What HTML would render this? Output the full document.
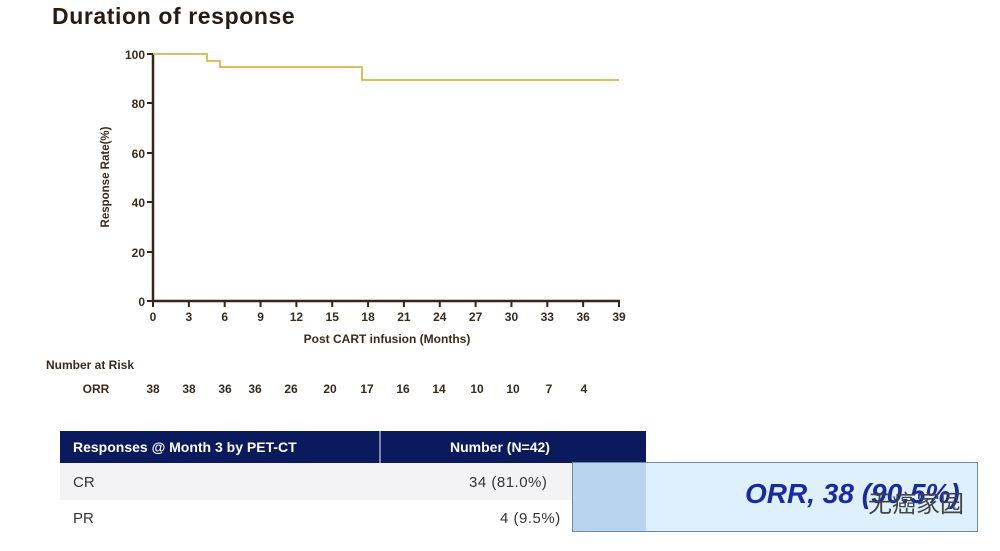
<!DOCTYPE html>
<html><head><style>
body{margin:0;width:1000px;height:551px;background:#fff;overflow:hidden;position:relative;font-family:"Liberation Sans","Noto Sans CJK SC",sans-serif}
.a{position:absolute}
</style></head><body>
<div class="a" style="left:52px;top:3px;font-size:23px;letter-spacing:0.6px;font-weight:bold;color:#2a1a10">Duration of response</div>
<svg class="a" style="left:0;top:0" width="1000" height="420" font-family="Liberation Sans,sans-serif" font-weight="bold" fill="#3a2a1a">
<g stroke="#3a2418" stroke-width="2.5" fill="none">
<line x1="153" y1="53" x2="153" y2="302"/><line x1="152" y1="301" x2="620" y2="301"/>
</g>
<g stroke="#3a2418" stroke-width="2">
<line x1="147" y1="54" x2="153" y2="54"/><line x1="147" y1="103" x2="153" y2="103"/><line x1="147" y1="153" x2="153" y2="153"/><line x1="147" y1="202" x2="153" y2="202"/><line x1="147" y1="252" x2="153" y2="252"/><line x1="147" y1="301" x2="153" y2="301"/>
</g>
<g font-size="12" text-anchor="end">
<text x="145" y="59">100</text><text x="145" y="108">80</text><text x="145" y="158">60</text><text x="145" y="207">40</text><text x="145" y="257">20</text><text x="145" y="306">0</text>
</g>
<g font-size="12" text-anchor="middle" id="xt"></g>
<text font-size="11.5" text-anchor="middle" transform="translate(109,177) rotate(-90)">Response Rate(%)</text>
<text x="387" y="343" font-size="12" text-anchor="middle">Post CART infusion (Months)</text>
<polyline fill="none" stroke="#d8b84a" stroke-width="1.8" points="153,54 207,54 207,61 220,61 220,67 362,67 362,80 619,80"/>
<text x="46" y="369" font-size="12">Number at Risk</text>
<g font-size="12" text-anchor="middle">
<text x="96" y="393">ORR</text>
<text x="153" y="393">38</text><text x="189" y="393">38</text><text x="225" y="393">36</text><text x="255" y="393">36</text><text x="291" y="393">26</text><text x="330" y="393">20</text><text x="367" y="393">17</text><text x="403" y="393">16</text><text x="439" y="393">14</text><text x="477" y="393">10</text><text x="513" y="393">10</text><text x="549" y="393">7</text><text x="584" y="393">4</text>
</g>
<g stroke="#3a2418" stroke-width="2" id="xtl"></g>
</svg>
<div class="a" style="left:60px;top:431px;width:586px;height:32px;background:#0a1a5c"></div>
<div class="a" style="left:379px;top:431px;width:2px;height:32px;background:#7a86b0"></div>
<div class="a" style="left:73px;top:439px;color:#fff;font-size:14px;font-weight:bold">Responses @ Month 3 by PET-CT</div>
<div class="a" style="left:450px;top:439px;color:#fff;font-size:14px;font-weight:bold">Number (N=42)</div>
<div class="a" style="left:60px;top:463px;width:586px;height:37px;background:#f3f3f6"></div>
<div class="a" style="left:73px;top:474px;font-size:15px;color:#333">CR</div>
<div class="a" style="left:469px;top:474px;font-size:15px;color:#333;letter-spacing:0.5px">34 (81.0%)</div>
<div class="a" style="left:73px;top:510px;font-size:15px;color:#333">PR</div>
<div class="a" style="left:500px;top:510px;font-size:15px;color:#333;letter-spacing:0.5px">4 (9.5%)</div>
<div class="a" style="left:572px;top:462px;width:404px;height:68px;background:#def0fb;border:1.5px solid #6a8aa0"></div>
<div class="a" style="left:573px;top:463px;width:73px;height:68px;background:#b8d4ee"></div>
<div class="a" style="left:745px;top:478px;font-size:28px;font-weight:bold;font-style:italic;color:#1a2aa0">ORR, 38 (90.5%)</div>
<div class="a" style="left:868px;top:484px;font-size:24px;color:#444">无癌家园</div>
<script>
var g=document.getElementById('xt'),t=document.getElementById('xtl'),s='';var l='';
for(var i=0;i<=39;i+=3){var x=153+i*(466/39);s+='<text x="'+x+'" y="321">'+i+'</text>';l+='<line x1="'+x+'" y1="301" x2="'+x+'" y2="307"/>';}
g.innerHTML=s;t.innerHTML=l;
</script>
</body></html>
